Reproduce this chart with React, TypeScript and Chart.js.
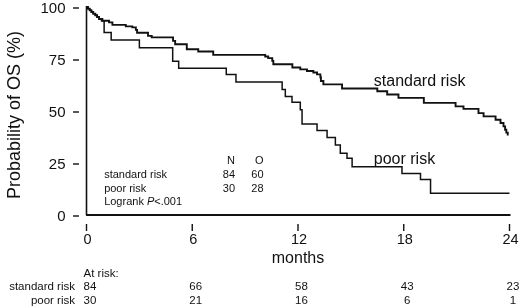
import React, { useEffect, useRef } from "react";
import { Chart, registerables } from "chart.js";

Chart.register(...registerables);

// ---- data ----
const standardTimes = [0, 0.08, 0.18, 0.28, 0.38, 0.5, 0.6, 0.71, 0.9, 1.28, 1.47, 2.23, 2.6, 2.8, 2.87, 3.49, 3.7, 4.91, 5.03, 5.69, 6.34, 7.19, 10.14, 10.31, 10.54, 10.6, 11.68, 12.13, 12.51, 12.87, 13.08, 13.27, 13.3, 13.44, 14.5, 16.5, 17.06, 17.7, 19.14, 20.94, 21.39, 22.24, 22.53, 23.21, 23.49, 23.66, 23.75, 23.82, 23.9];
const standardSurvival = [100, 99.2, 98.4, 97.6, 96.8, 96.0, 95.2, 94.2, 93.4, 92.6, 91.4, 90.7, 90.2, 89.0, 87.6, 86.1, 85.4, 83.7, 82.1, 79.7, 78.6, 77.0, 76.2, 75.4, 74.1, 72.5, 70.9, 70.0, 69.2, 68.5, 67.6, 66.2, 64.4, 62.8, 60.8, 59.5, 57.9, 56.3, 53.9, 52.2, 51.0, 49.0, 47.4, 45.8, 44.2, 42.6, 41.0, 39.6, 38.2];
const poorTimes = [0, 0.08, 0.18, 0.28, 0.38, 0.5, 0.6, 0.71, 0.85, 1.0, 1.4, 3.0, 4.89, 5.23, 7.93, 8.48, 11.1, 11.28, 11.66, 12.13, 12.23, 13.08, 13.65, 14.12, 14.4, 14.78, 15.07, 17.9, 18.95, 19.52, 24];
const poorSurvival = [100, 99.2, 98.4, 97.6, 96.8, 96.0, 95.2, 94.2, 93.4, 87.7, 84.1, 80.4, 73.9, 70.6, 67.5, 64.0, 60.3, 57.0, 54.2, 50.6, 43.7, 40.6, 37.2, 33.7, 29.7, 27.3, 23.2, 20.0, 17.1, 10.4, 10.4];

const xTicks = [0, 6, 12, 18, 24];
const yTicks = [0, 25, 50, 75, 100];
const atRiskStandard = [84, 66, 58, 43, 23];
const atRiskPoor = [30, 21, 16, 6, 1];
const groupNames = ["standard risk", "poor risk"];
const groupN = [84, 30];
const groupO = [60, 28];
const xTitle = "months";
const yTitle = "Probability of OS (%)";

const FONT = '"Liberation Sans", Arial, Helvetica, sans-serif';
const INK = "#111";

const decor = {
  id: "decor",
  afterDraw(chart: any) {
    const ctx = chart.ctx as CanvasRenderingContext2D;
    const xs = chart.scales.x;
    const ys = chart.scales.y;
    const X = (v: number) => xs.getPixelForValue(v);
    const Y = (v: number) => ys.getPixelForValue(v);
    const x0 = X(0);
    const y0 = Y(0);
    ctx.save();
    ctx.strokeStyle = INK;
    ctx.fillStyle = INK;

    // axis lines
    ctx.lineWidth = 1.6;
    ctx.beginPath();
    ctx.moveTo(x0, Y(100) - 1);
    ctx.lineTo(x0, y0);
    ctx.stroke();
    ctx.lineWidth = 2.2;
    ctx.beginPath();
    ctx.moveTo(x0 - 0.5, y0);
    ctx.lineTo(X(24) + 1, y0);
    ctx.stroke();

    // y ticks
    ctx.lineWidth = 1.4;
    ctx.font = `15px ${FONT}`;
    ctx.textAlign = "right";
    ctx.textBaseline = "middle";
    yTicks.forEach((v) => {
      const y = Y(v);
      ctx.beginPath();
      ctx.moveTo(x0 - 13.5, y + 1);
      ctx.lineTo(x0 - 7.5, y + 1);
      ctx.stroke();
      ctx.fillText(String(v), x0 - 21, y + 1.5);
    });

    // x ticks
    ctx.font = `14.5px ${FONT}`;
    ctx.textAlign = "center";
    ctx.textBaseline = "alphabetic";
    xTicks.forEach((v) => {
      const x = X(v);
      ctx.beginPath();
      ctx.moveTo(x, y0 + 9);
      ctx.lineTo(x, y0 + 16);
      ctx.stroke();
      ctx.fillText(String(v), x + 1, 243.5);
    });

    // axis titles
    ctx.font = `16px ${FONT}`;
    ctx.fillText(xTitle, X(12), 263);
    ctx.save();
    ctx.translate(15, 115);
    ctx.rotate(-Math.PI / 2);
    ctx.font = `18px ${FONT}`;
    ctx.textBaseline = "middle";
    ctx.fillText(yTitle, 0, 0);
    ctx.restore();

    // curve labels
    ctx.font = `16px ${FONT}`;
    ctx.textAlign = "left";
    ctx.fillText(groupNames[0], X(16.3), Y(61.8));
    ctx.fillText(groupNames[1], X(16.3), Y(24.5));

    // inner legend
    ctx.font = `11px ${FONT}`;
    const lx = X(1.0);
    const c1 = 235;
    const c2 = 263.5;
    const rows = [164, 178, 191.5, 204.5];
    ctx.textAlign = "right";
    ctx.fillText("N", c1, rows[0]);
    ctx.fillText("O", c2, rows[0]);
    groupNames.forEach((g, i) => {
      ctx.textAlign = "left";
      ctx.fillText(g, lx, rows[i + 1]);
      ctx.textAlign = "right";
      ctx.fillText(String(groupN[i]), c1, rows[i + 1]);
      ctx.fillText(String(groupO[i]), c2, rows[i + 1]);
    });
    ctx.textAlign = "left";
    let px = lx;
    const t1 = "Logrank ";
    ctx.fillText(t1, px, rows[3]);
    px += ctx.measureText(t1).width;
    ctx.font = `italic 11px ${FONT}`;
    ctx.fillText("P", px, rows[3]);
    px += ctx.measureText("P").width;
    ctx.font = `11px ${FONT}`;
    ctx.fillText("<.001", px, rows[3]);

    // at risk table
    ctx.font = `11.5px ${FONT}`;
    ctx.textAlign = "left";
    ctx.fillText("At risk:", x0 - 3, 277);
    const rr = [290, 303.5];
    [atRiskStandard, atRiskPoor].forEach((arr, i) => {
      ctx.textAlign = "right";
      ctx.fillText(groupNames[i], 75, rr[i]);
      ctx.textAlign = "center";
      arr.forEach((n, j) => {
        ctx.fillText(String(n), X(xTicks[j]) + 3.5, rr[i]);
      });
    });
    ctx.restore();
  },
};

export default function App() {
  const ref = useRef<HTMLCanvasElement | null>(null);
  useEffect(() => {
    document.body.style.margin = "0";
    const canvas = ref.current;
    if (!canvas) return;
    const chart = new Chart(canvas, {
      type: "line",
      data: {
        datasets: [
          {
            label: groupNames[0],
            data: standardTimes.map((t, i) => ({ x: t, y: standardSurvival[i] })),
            borderColor: INK,
            borderWidth: 1.9,
            stepped: "before",
            pointRadius: 0,
            fill: false,
            clip: 10,
          },
          {
            label: groupNames[1],
            data: poorTimes.map((t, i) => ({ x: t, y: poorSurvival[i] })),
            borderColor: INK,
            borderWidth: 1.5,
            stepped: "before",
            pointRadius: 0,
            fill: false,
            clip: 10,
          },
        ],
      },
      options: {
        animation: false,
        responsive: false,
        layout: { padding: { left: 86.5, right: 10.5, top: 7, bottom: 93 } },
        scales: {
          x: { type: "linear", min: 0, max: 24, display: false },
          y: { type: "linear", min: 0, max: 100, display: false },
        },
        plugins: { legend: { display: false }, tooltip: { enabled: false } },
      },
      plugins: [decor],
    } as any);
    return () => chart.destroy();
  }, []);
  return (
    <div style={{ width: 520, height: 308, background: "#fff" }}>
      <canvas ref={ref} width={520} height={308} style={{ display: "block" }} />
    </div>
  );
}
